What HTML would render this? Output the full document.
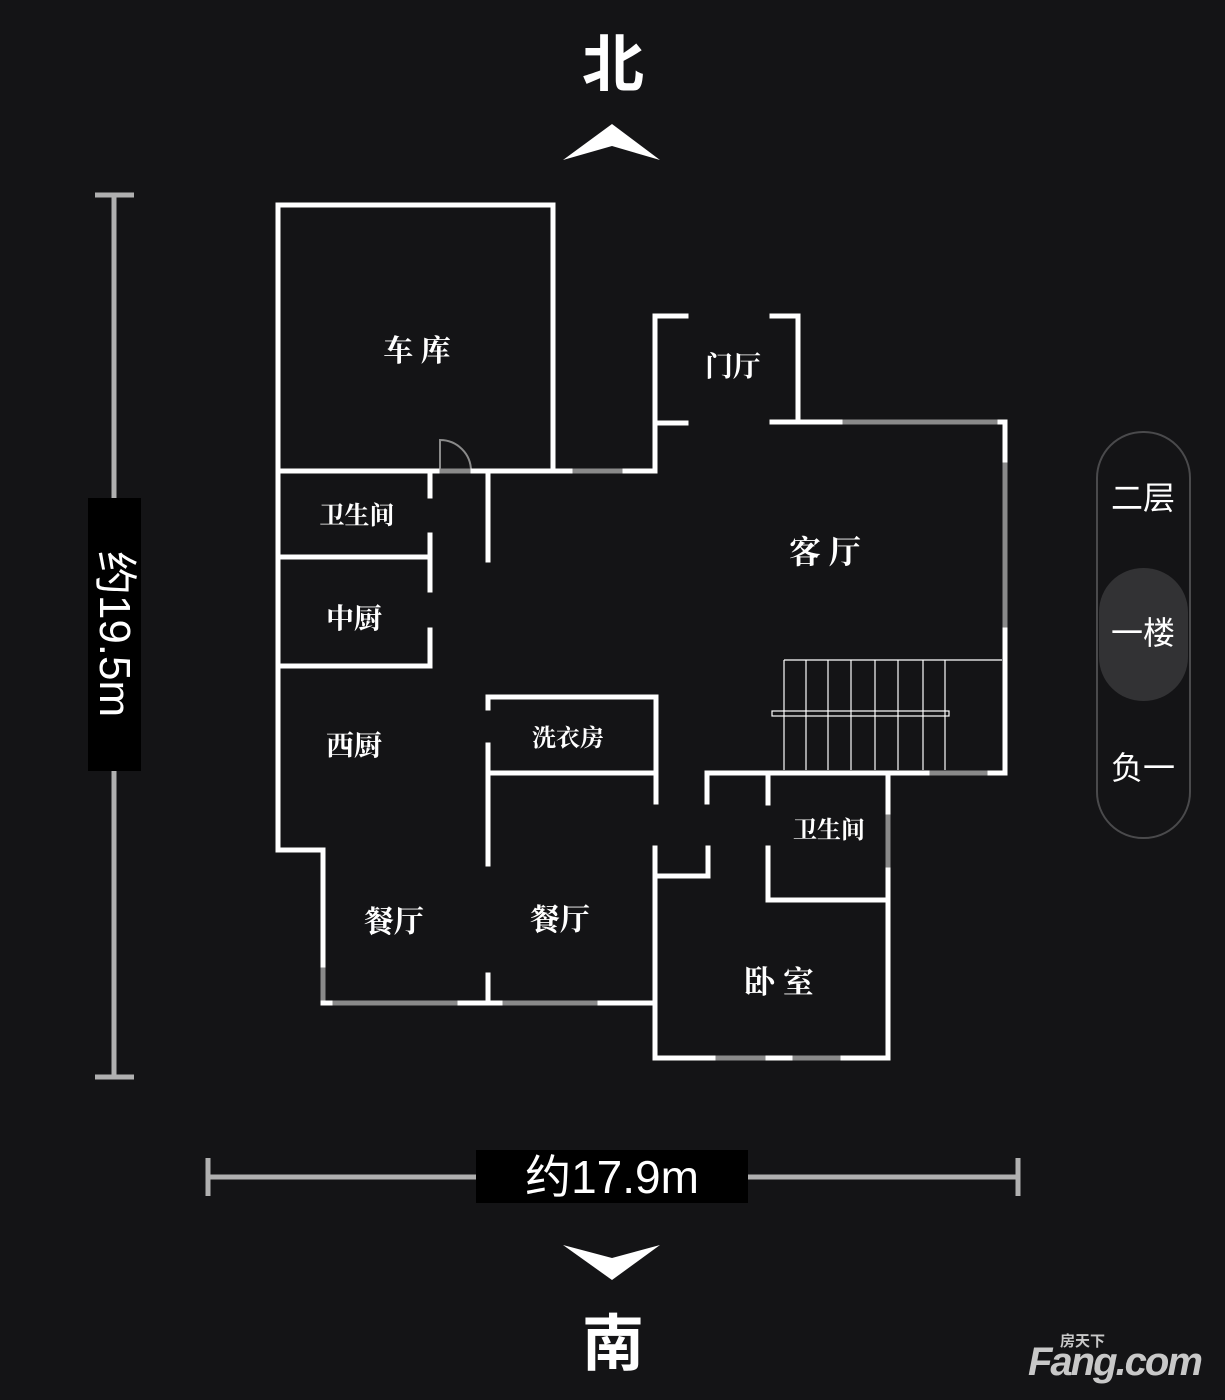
<!DOCTYPE html>
<html><head><meta charset="utf-8"><style>
html,body{margin:0;padding:0;background:#141416;}
body{width:1225px;height:1400px;position:relative;overflow:hidden;font-family:"Liberation Sans","Noto Sans CJK SC",sans-serif;}
svg{position:absolute;left:0;top:0;}
</style></head><body>
<svg width="1225" height="1400" viewBox="0 0 1225 1400" xmlns="http://www.w3.org/2000/svg">
<rect width="1225" height="1400" fill="#141416"/>
<text x="613" y="86" font-size="62" fill="#fff" text-anchor="middle" font-family="Noto Sans CJK SC,sans-serif" font-weight="bold">北</text>
<polygon points="563,160 612,124 660,160 612,146" fill="#fff"/>
<polygon points="563,1245 612,1280 660,1245 612,1258" fill="#fff"/>
<text x="613" y="1365" font-size="62" fill="#fff" text-anchor="middle" font-family="Noto Sans CJK SC,sans-serif" font-weight="bold">南</text>

<g stroke="#b0b0b0" stroke-width="5">
<line x1="114" y1="195" x2="114" y2="1077"/>
<line x1="95" y1="195" x2="134" y2="195"/>
<line x1="95" y1="1077" x2="134" y2="1077"/>
<line x1="208" y1="1177" x2="1018" y2="1177"/>
<line x1="208" y1="1158" x2="208" y2="1196"/>
<line x1="1018" y1="1158" x2="1018" y2="1196"/>
</g>
<rect x="88" y="498" width="53" height="273" fill="#000"/>
<text transform="translate(100,634) rotate(90)" font-size="44" fill="#fff" text-anchor="middle" font-family="Liberation Sans,Noto Sans CJK SC,sans-serif">约19.5m</text>
<rect x="476" y="1150" width="272" height="53" fill="#000"/>
<text x="612" y="1193" font-size="46" fill="#fff" text-anchor="middle" font-family="Liberation Sans,Noto Sans CJK SC,sans-serif">约17.9m</text>

<g stroke="#8a8a8a" stroke-width="5">
<line x1="570" y1="471" x2="625" y2="471"/>
<line x1="278" y1="500" x2="278" y2="535"/>
<line x1="278" y1="575" x2="278" y2="610"/>
<line x1="278" y1="715" x2="278" y2="790"/>
<line x1="840" y1="422" x2="1000" y2="422"/>
<line x1="1005" y1="460" x2="1005" y2="630"/>
<line x1="927" y1="773" x2="990" y2="773"/>
<line x1="888" y1="812" x2="888" y2="870"/>
<line x1="713" y1="1058" x2="768" y2="1058"/>
<line x1="790" y1="1058" x2="843" y2="1058"/>
<line x1="330" y1="1003" x2="460" y2="1003"/>
<line x1="500" y1="1003" x2="600" y2="1003"/>
<line x1="323" y1="965" x2="323" y2="1003"/>
<line x1="437" y1="471" x2="473" y2="471"/>
</g>
<path d="M440,471 L440,440 A31,31 0 0 1 471,471" fill="none" stroke="#8a8a8a" stroke-width="2"/>

<g stroke="#fff" stroke-width="5" fill="none" stroke-linecap="square">
<path d="M278,850 L278,205 L553,205 L553,470"/>
<line x1="278" y1="471" x2="437" y2="471"/>
<line x1="473" y1="471" x2="570" y2="471"/>
<line x1="625" y1="471" x2="655" y2="471"/>
<line x1="655" y1="471" x2="655" y2="423"/>
<line x1="655" y1="423" x2="686" y2="423"/>
<path d="M686,316 L655,316 L655,420"/>
<path d="M772,316 L798,316 L798,420"/>
<line x1="772" y1="422" x2="840" y2="422"/>
<line x1="1000" y1="422" x2="1005" y2="422"/>
<line x1="1005" y1="422" x2="1005" y2="460"/>
<line x1="1005" y1="630" x2="1005" y2="773"/>
<line x1="990" y1="773" x2="1005" y2="773"/>
<line x1="707" y1="773" x2="927" y2="773"/>
<line x1="430" y1="472" x2="430" y2="496"/>
<line x1="430" y1="535" x2="430" y2="590"/>
<line x1="430" y1="630" x2="430" y2="666"/>
<line x1="278" y1="557" x2="430" y2="557"/>
<line x1="278" y1="666" x2="430" y2="666"/>
<line x1="488" y1="472" x2="488" y2="560"/>
<path d="M488,708 L488,697 L656,697 L656,802"/>
<line x1="488" y1="745" x2="488" y2="864"/>
<line x1="488" y1="773" x2="655" y2="773"/>
<path d="M278,850 L323,850 L323,965"/>
<line x1="323" y1="1003" x2="330" y2="1003"/>
<line x1="460" y1="1003" x2="500" y2="1003"/>
<line x1="600" y1="1003" x2="655" y2="1003"/>
<line x1="488" y1="975" x2="488" y2="1003"/>
<line x1="655" y1="848" x2="655" y2="1058"/>
<path d="M707,802 L707,773"/>
<path d="M655,876 L708,876 L708,848"/>
<line x1="768" y1="773" x2="768" y2="803"/>
<path d="M768,848 L768,900 L888,900"/>
<line x1="888" y1="773" x2="888" y2="812"/>
<line x1="888" y1="870" x2="888" y2="1058"/>
<line x1="655" y1="1058" x2="713" y2="1058"/>
<line x1="768" y1="1058" x2="790" y2="1058"/>
<line x1="843" y1="1058" x2="888" y2="1058"/>
</g>
<g stroke="#fff" stroke-width="1.2" fill="none">
<line x1="784" y1="660" x2="1002" y2="660"/>
<line x1="784" y1="660" x2="784" y2="770"/>
<line x1="806" y1="660" x2="806" y2="770"/>
<line x1="828" y1="660" x2="828" y2="770"/>
<line x1="851" y1="660" x2="851" y2="770"/>
<line x1="875" y1="660" x2="875" y2="770"/>
<line x1="898" y1="660" x2="898" y2="770"/>
<line x1="923" y1="660" x2="923" y2="770"/>
<line x1="945" y1="660" x2="945" y2="770"/>
<rect x="772" y="711" width="177" height="5"/>
</g>

<g fill="#fff" font-family="Noto Serif CJK SC,serif" text-anchor="middle" font-weight="bold">
<text x="417" y="361" font-size="30">车 库</text>
<text x="733" y="376" font-size="28">门厅</text>
<text x="825" y="563" font-size="32">客 厅</text>
<text x="357" y="524" font-size="25">卫生间</text>
<text x="354" y="628" font-size="28">中厨</text>
<text x="354" y="755" font-size="28">西厨</text>
<text x="568" y="746" font-size="24">洗衣房</text>
<text x="394" y="932" font-size="30">餐厅</text>
<text x="560" y="930" font-size="30">餐厅</text>
<text x="829" y="838" font-size="24">卫生间</text>
<text x="779" y="993" font-size="31">卧 室</text>
</g>

<rect x="1097" y="432" width="93" height="406" rx="46" fill="none" stroke="#4a4a4c" stroke-width="2"/>
<rect x="1099" y="568" width="89" height="133" rx="44" fill="#323234"/>
<g fill="#fff" font-family="Noto Sans CJK SC,sans-serif" font-size="32" text-anchor="middle">
<text x="1143" y="509">二层</text>
<text x="1143" y="644">一楼</text>
<text x="1143" y="779">负一</text>
</g>

<text x="1060" y="1346" font-size="15" fill="#c8c8c8" font-weight="bold" font-family="Noto Sans CJK SC,sans-serif">房天下</text>
<text x="1028" y="1375" font-size="40" fill="#c8c8c8" font-weight="bold" font-style="italic" font-family="Liberation Sans,sans-serif" letter-spacing="-2">Fang.com</text>
</svg>
</body></html>
